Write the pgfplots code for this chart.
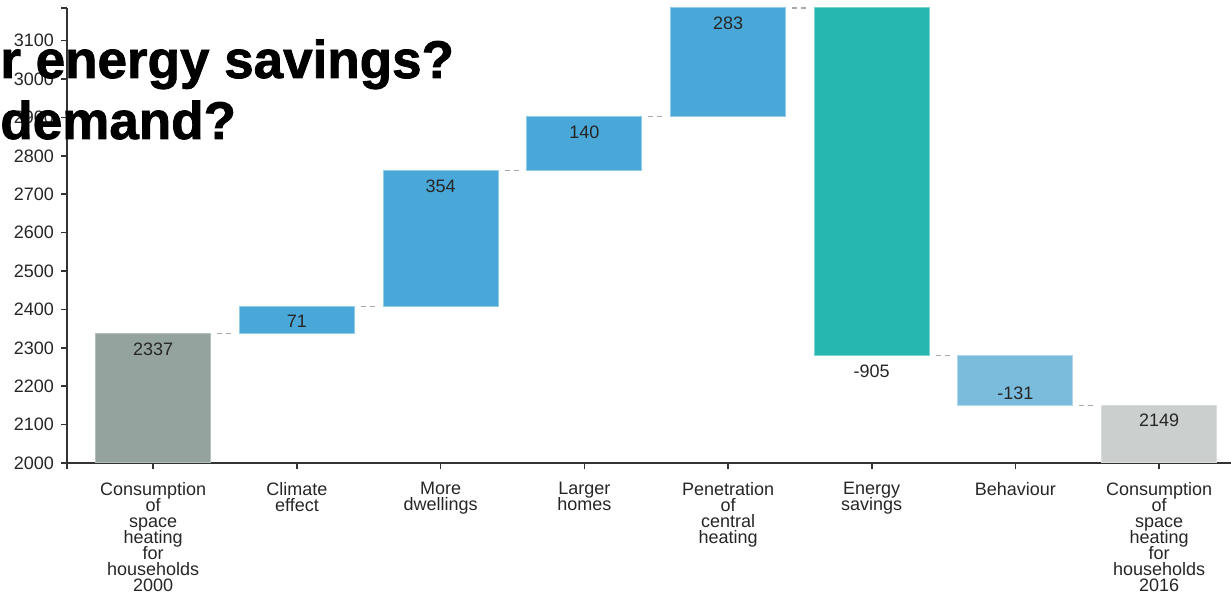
\documentclass[border=0pt]{standalone}
\usepackage{pgfplots}
\pgfplotsset{compat=1.18}
\usepackage{fontspec}
\setmainfont{Liberation Sans}
\newfontface\titlefont[FakeBold=1.5]{Liberation Sans Bold}
\definecolor{totA}{HTML}{95A39E}
\definecolor{blueb}{HTML}{4AA8D8}
\definecolor{tealb}{HTML}{26B7B1}
\definecolor{behb}{HTML}{7BBCDD}
\definecolor{totB}{HTML}{CBCFCD}
\definecolor{conn}{HTML}{AAAAAA}
\begin{document}
\lineskiplimit=-10pt
\begin{tikzpicture}
\begin{axis}[
  at={(0,0)}, anchor=south west,
  scale only axis, width=582pt, height=227.5pt,
  xmin=-0.6, xmax=7.5, ymin=2000, ymax=3185,
  axis lines=left,
  axis line style={-, draw=black!80, line width=0.8pt},
  xtick={0,...,7},
  xticklabels={{Consumption\\of\\space\\heating\\for\\households\\2000},
    {Climate\\effect},{More\\dwellings},{Larger\\homes},
    {Penetration\\of\\central\\heating},{Energy\\savings},{Behaviour},
    {Consumption\\of\\space\\heating\\for\\households\\2016}},
  ytick={2000,2100,...,3100},
  extra y ticks={3185}, extra y tick labels={},
  extra x ticks={-0.6}, extra x tick labels={},
  tick align=outside, major tick length=3pt,
  tick style={draw=black!80, line width=0.8pt},
  ticklabel style={font=\fontsize{9}{8}\selectfont, text=black!85},
  xticklabel style={align=center, yshift=-3pt},
  /pgf/number format/assume math mode=true,
  /pgf/number format/1000 sep={},
  clip=false,
]
% bars
\addplot[fill=totA, draw=totA!70!white, line width=0.5pt] coordinates {(-0.4,2000) (0.4,2000) (0.4,2337) (-0.4,2337)} --cycle;
\addplot[fill=blueb, draw=blueb!60!white, line width=0.5pt] coordinates {(0.6,2337) (1.4,2337) (1.4,2408) (0.6,2408)} --cycle;
\addplot[fill=blueb, draw=blueb!60!white, line width=0.5pt] coordinates {(1.6,2408) (2.4,2408) (2.4,2762) (1.6,2762)} --cycle;
\addplot[fill=blueb, draw=blueb!60!white, line width=0.5pt] coordinates {(2.6,2762) (3.4,2762) (3.4,2902) (2.6,2902)} --cycle;
\addplot[fill=blueb, draw=blueb!60!white, line width=0.5pt] coordinates {(3.6,2902) (4.4,2902) (4.4,3185) (3.6,3185)} --cycle;
\addplot[fill=tealb, draw=tealb!60!white, line width=0.5pt] coordinates {(4.6,2280) (5.4,2280) (5.4,3185) (4.6,3185)} --cycle;
\addplot[fill=behb, draw=behb!60!white, line width=0.5pt] coordinates {(5.6,2149) (6.4,2149) (6.4,2280) (5.6,2280)} --cycle;
\addplot[fill=totB, draw=totB!70!white, line width=0.5pt] coordinates {(6.6,2000) (7.4,2000) (7.4,2149) (6.6,2149)} --cycle;
% connectors
\addplot[conn, line width=0.7pt, dash pattern=on 2.5pt off 2pt, unbounded coords=jump] coordinates {
 (0.445,2337) (0.55,2337) (nan,nan)
 (1.445,2408) (1.55,2408) (nan,nan)
 (2.445,2762) (2.55,2762) (nan,nan)
 (3.445,2902) (3.55,2902) (nan,nan)
 (4.445,3185) (4.55,3185) (nan,nan)
 (5.445,2280) (5.55,2280) (nan,nan)
 (6.445,2149) (6.55,2149)
};
% value labels
\begin{scope}[every node/.style={font=\fontsize{9}{9}\selectfont, text=black!85, inner sep=0}]
\node at (axis cs:0,2297) {2337};
\node at (axis cs:1,2370) {71};
\node at (axis cs:2,2721) {354};
\node at (axis cs:3,2862) {140};
\node at (axis cs:4,3146) {283};
\node at (axis cs:5,2240) {-905};
\node at (axis cs:6,2182) {-131};
\node at (axis cs:7,2112) {2149};
\end{scope}
\end{axis}
\node[anchor=base west, inner sep=0, font=\fontsize{26.5}{26.5}\titlefont] at (-33.5pt,192.5pt) {r energy savings?};
\node[anchor=base west, inner sep=0, font=\fontsize{26.5}{26.5}\titlefont] at (-33.5pt,162pt) {demand?};
\pgfresetboundingbox
\path[use as bounding box] (-33.5pt,-64.5pt) rectangle (582pt,231.5pt);
\end{tikzpicture}
\end{document}
